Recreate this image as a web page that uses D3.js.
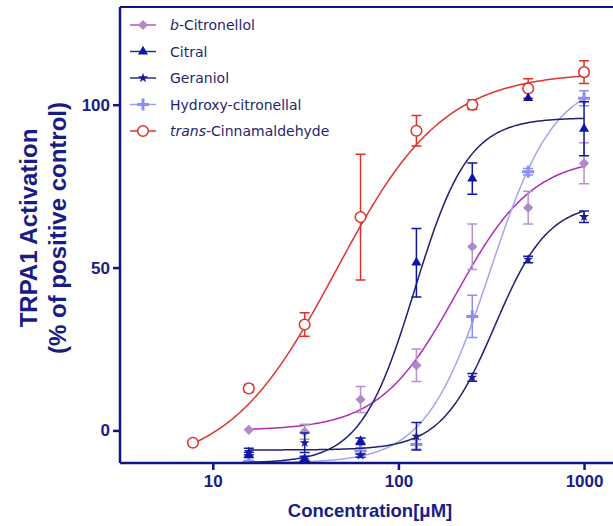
<!DOCTYPE html>
<html><head><meta charset="utf-8">
<script src="https://cdn.jsdelivr.net/npm/d3@7"></script>
<style>body{margin:0;background:#fff}svg{display:block}</style>
</head><body>
<svg id="chart" width="613" height="526"></svg>
<script>
// ---- data ----
const concentrations = [7.8125, 15.625, 31.25, 62.5, 125, 250, 500, 1000];
const seriesNames = ["b-Citronellol", "Citral", "Geraniol", "Hydroxy-citronellal", "trans-Cinnamaldehyde"];
const citronellolMean = [null, 0.2, -0.4, 9.5, 20, 56.4, 68.4, 82];
const citronellolErr  = [null, 0, 2.3, 4, 5, 7, 5, 6.3];
const citralMean = [null, -7.5, -8.7, -3.3, 51.5, 77.3, 102, 92.6];
const citralErr  = [null, 0.8, 0.8, 1, 10.5, 4.8, 0, 8.3];
const geraniolMean = [null, -6.5, -3.8, -7.7, -1.8, 16.3, 52.5, 65.6];
const geraniolErr  = [null, 1, 3, 0.5, 4.2, 1.2, 1, 1.8];
const hydroxyMean = [null, -9.7, -9.7, -6.3, -4.3, 35, 79.4, 102];
const hydroxyErr  = [null, 0.5, 1, 1, 1.5, 6.5, 1, 2.3];
const cinnamMean = [-3.8, 12.9, 32.5, 65.5, 92, 100, 105, 110];
const cinnamErr  = [0, 1.2, 3.6, 19.3, 4.7, 1.5, 3, 3.5];
// fitted dose-response curve parameters (bottom, top, EC50 [uM], Hill slope)
const fitBottom = [0, -10, -6, -10, -12];
const fitTop    = [84, 96, 70, 108, 110];
const fitEC50   = [205, 122, 330, 312, 46];
const fitHill   = [2.1, 3, 3, 2.49, 1.5];
const xTicks = [10, 100, 1000];
const yTicks = [0, 50, 100];

// ---- style ----
const markerColors = ["#b388c6", "#0b16a6", "#1b1b9a", "#8d8ef2", "#e0322c"];
const curveColors  = ["#b12db8", "#1c2070", "#1f2170", "#a3a5ee", "#e0352f"];
const legendLineColors = ["#c24bc4", "#2a2f78", "#2a2f78", "#9c9ff2", "#e0352f"];
const axisColor = "#12128a";
const textColor = "#1a1c86";

const svg = d3.select("#chart");
const W = 613, H = 526;
const x = d3.scaleLog().domain([Math.pow(10, 0.5), Math.pow(10, 3.156)]).range([120, 613]);
const y = d3.scaleLinear().domain([-10, 130]).range([463, 7]);

const means = [citronellolMean, citralMean, geraniolMean, hydroxyMean, cinnamMean];
const errs = [citronellolErr, citralErr, geraniolErr, hydroxyErr, cinnamErr];

svg.append("defs").append("clipPath").attr("id", "plotclip")
  .append("rect").attr("x", 120).attr("y", 7).attr("width", W - 120).attr("height", 456);

const plot = svg.append("g").attr("clip-path", "url(#plotclip)");

function hill(i, c) {
  return fitBottom[i] + (fitTop[i] - fitBottom[i]) / (1 + Math.pow(fitEC50[i] / c, fitHill[i]));
}

const symbols = [
  d3.symbol().type(d3.symbolSquare).size(52),
  d3.symbol().type(d3.symbolTriangle).size(44),
  d3.symbol().type(d3.symbolStar).size(32),
  null,
  null
];

function drawMarker(g, i, cx, cy) {
  if (i === 4) {
    g.append("circle").attr("cx", cx).attr("cy", cy).attr("r", 5.3)
      .attr("fill", "#fff").attr("stroke", markerColors[i]).attr("stroke-width", 1.5);
  } else if (i === 3) {
    g.append("path").attr("d", `M${cx-6},${cy}H${cx+6}M${cx},${cy-6}V${cy+6}`)
      .attr("stroke", markerColors[i]).attr("stroke-width", 3).attr("fill", "none");
  } else if (i === 0) {
    g.append("path").attr("d", symbols[0]()).attr("fill", markerColors[i])
      .attr("transform", `translate(${cx},${cy}) rotate(45)`);
  } else {
    g.append("path").attr("d", symbols[i]()).attr("fill", markerColors[i])
      .attr("transform", `translate(${cx},${cy})`);
  }
}

const order = [4, 0, 3, 2, 1];
order.forEach(i => {
  const g = plot.append("g");
  // curve
  const present = concentrations.filter((c, k) => means[i][k] !== null);
  const lo = d3.min(present), hi = d3.max(present);
  const pts = d3.range(0, 201).map(k => {
    const c = Math.pow(10, Math.log10(lo) + (Math.log10(hi) - Math.log10(lo)) * k / 200);
    return [x(c), y(hill(i, c))];
  });
  g.append("path").attr("d", d3.line()(pts)).attr("fill", "none")
    .attr("stroke", curveColors[i]).attr("stroke-width", 1.5);
  // error bars
  concentrations.forEach((c, k) => {
    const m = means[i][k], e = errs[i][k];
    if (m === null || !e) return;
    const cx = x(c), y1 = y(m + e), y2 = y(m - e);
    g.append("path").attr("d", `M${cx},${y1}V${y2}M${cx-5},${y1}H${cx+5}M${cx-5},${y2}H${cx+5}`)
      .attr("stroke", i === 0 ? "#b98fcc" : markerColors[i]).attr("stroke-width", 1.5).attr("fill", "none");
  });
  // markers
  concentrations.forEach((c, k) => {
    const m = means[i][k];
    if (m === null) return;
    drawMarker(g, i, x(c), y(m));
  });
});

// axes
const yAxis = d3.axisLeft(y).tickValues(yTicks).tickSize(7).tickPadding(3);
const ya = svg.append("g").attr("transform", "translate(120,0)").call(yAxis);
ya.select(".domain").attr("d", "M0,7V463");
const xAxis = d3.axisBottom(x).tickValues(xTicks).tickFormat(d3.format("d")).tickSize(7).tickPadding(5);
const xa = svg.append("g").attr("transform", "translate(0,463)").call(xAxis);
xa.select(".domain").attr("d", "M120,0H613");
[ya, xa].forEach(a => {
  a.selectAll(".domain").attr("stroke", axisColor).attr("stroke-width", 2.5);
  a.selectAll(".tick line").attr("stroke", axisColor).attr("stroke-width", 2.5);
  a.selectAll("text").attr("fill", textColor).attr("font-family", "'Liberation Sans', Arial, sans-serif")
    .attr("font-weight", "bold").attr("font-size", 17);
});
// top frame line
svg.append("line").attr("x1", 120).attr("x2", 613).attr("y1", 7).attr("y2", 7)
  .attr("stroke", axisColor).attr("stroke-width", 2);

// axis titles
svg.append("text").attr("x", 370).attr("y", 517).attr("text-anchor", "middle")
  .attr("fill", textColor).attr("font-family", "'Liberation Sans', Arial, sans-serif")
  .attr("font-weight", "bold").attr("font-size", 18.5).text("Concentration[\u03bcM]");
const yt = svg.append("text").attr("transform", "translate(37,228) rotate(-90)").attr("text-anchor", "middle")
  .attr("fill", textColor).attr("font-family", "'Liberation Sans', Arial, sans-serif")
  .attr("font-weight", "bold").attr("font-size", 24);
yt.append("tspan").attr("x", 0).attr("dy", 0).text("TRPA1 Activation");
yt.append("tspan").attr("x", 0).attr("dy", 29).text("(% of positive control)");

// legend
const legend = svg.append("g");
const legendTexts = [
  [["b", true], ["-Citronellol", false]],
  [["Citral", false]],
  [["Geraniol", false]],
  [["Hydroxy-citronellal", false]],
  [["trans", true], ["-Cinnamaldehyde", false]]
];
[0, 1, 2, 3, 4].forEach((i, r) => {
  const cy = 25 + r * 26.5;
  legend.append("line").attr("x1", 130).attr("x2", 156).attr("y1", cy).attr("y2", cy)
    .attr("stroke", legendLineColors[i]).attr("stroke-width", 1.5);
  drawMarker(legend, i, 143, cy);
  const t = legend.append("text").attr("x", 170).attr("y", cy + 5)
    .attr("fill", "#1f2670").attr("font-family", "'DejaVu Sans', Verdana, sans-serif").attr("font-size", 14);
  legendTexts[i].forEach(([s, it]) => t.append("tspan").attr("font-style", it ? "italic" : "normal").text(s));
});
</script>
</body></html>
